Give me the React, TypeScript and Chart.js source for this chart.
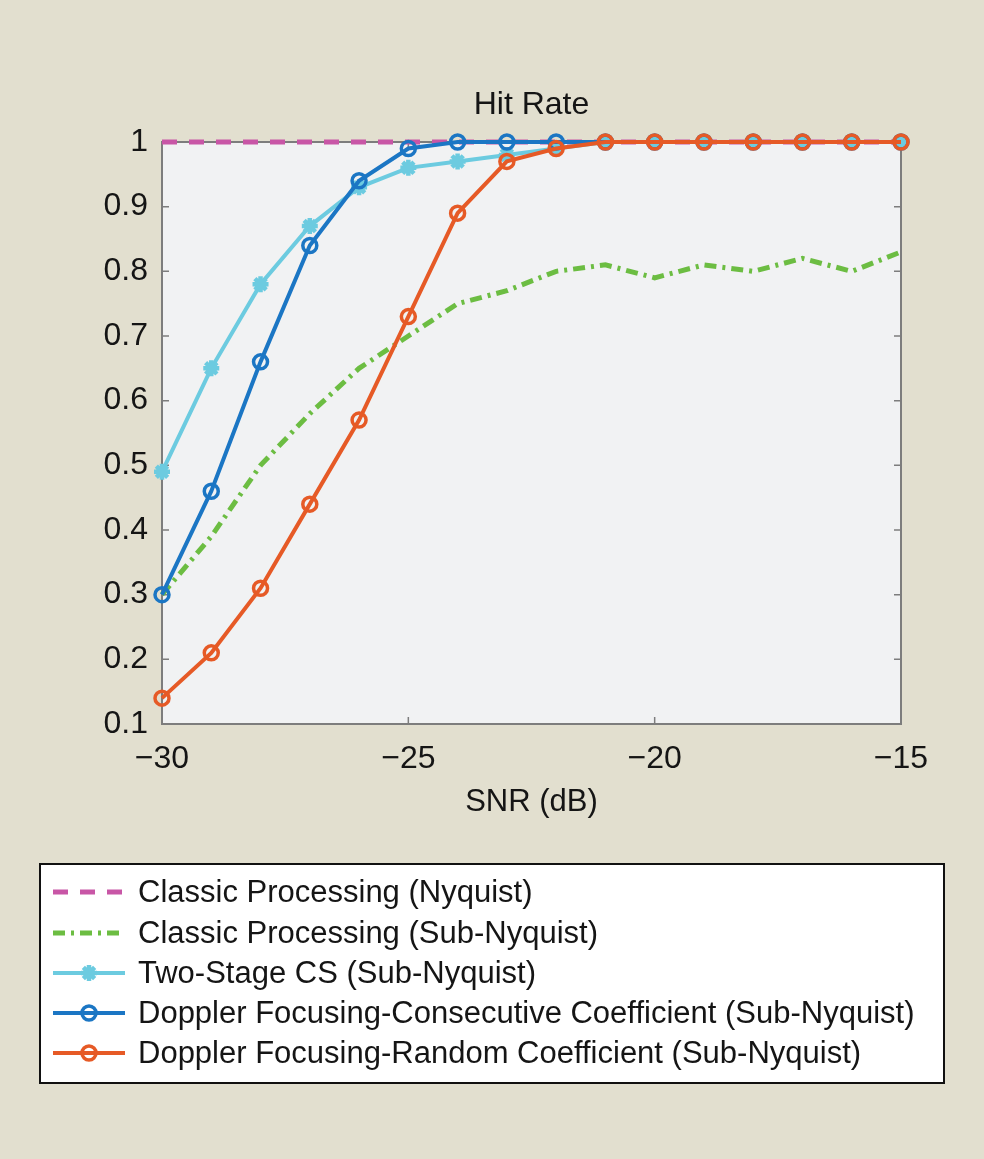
import React, { useEffect, useRef } from "react";
import { Chart, registerables } from "chart.js";
import { drawPoint } from "chart.js/helpers";

Chart.register(...registerables);

const snr = [-30, -29, -28, -27, -26, -25, -24, -23, -22, -21, -20, -19, -18, -17, -16, -15];
const classicNyquist = [1, 1, 1, 1, 1, 1, 1, 1, 1, 1, 1, 1, 1, 1, 1, 1];
const classicSubNyquist = [0.3, 0.39, 0.5, 0.58, 0.65, 0.7, 0.75, 0.77, 0.8, 0.81, 0.79, 0.81, 0.8, 0.82, 0.8, 0.83];
const twoStageCS = [0.49, 0.65, 0.78, 0.87, 0.93, 0.96, 0.97, 0.98, 0.99, 1, 1, 1, 1, 1, 1, 1];
const dopplerConsecutive = [0.3, 0.46, 0.66, 0.84, 0.94, 0.99, 1, 1, 1, 1, 1, 1, 1, 1, 1, 1];
const dopplerRandom = [0.14, 0.21, 0.31, 0.44, 0.57, 0.73, 0.89, 0.97, 0.99, 1, 1, 1, 1, 1, 1, 1];

const seriesLabels = [
  "Classic Processing (Nyquist)",
  "Classic Processing (Sub-Nyquist)",
  "Two-Stage CS (Sub-Nyquist)",
  "Doppler Focusing-Consecutive Coefficient (Sub-Nyquist)",
  "Doppler Focusing-Random Coefficient (Sub-Nyquist)",
];
const xTicks = [-30, -25, -20, -15];
const yTicks = [0.1, 0.2, 0.3, 0.4, 0.5, 0.6, 0.7, 0.8, 0.9, 1];
const titleText = "Hit Rate";
const xTitleText = "SNR (dB)";

const FONT = "'Liberation Sans', Arial, Helvetica, sans-serif";
const PAGE_BG = "#e2dfcf";
const PLOT_BG = "#f1f2f3";
const AXIS_COLOR = "#7d7d7d";
const TEXT_COLOR = "#151515";

const toPts = (ys: number[]) => ys.map((y, i) => ({ x: snr[i], y }));

const framePlugin = {
  id: "matlabFrame",
  beforeDraw(chart: any) {
    const { ctx, chartArea: a } = chart;
    ctx.save();
    ctx.fillStyle = PAGE_BG;
    ctx.fillRect(0, 0, chart.width, chart.height);
    ctx.fillStyle = PLOT_BG;
    ctx.fillRect(a.left, a.top, a.right - a.left, a.bottom - a.top);
    ctx.restore();
  },
  beforeDatasetsDraw(chart: any) {
    const { ctx, chartArea: a, scales } = chart;
    ctx.save();
    ctx.strokeStyle = AXIS_COLOR;
    ctx.lineWidth = 2;
    ctx.strokeRect(a.left, a.top, a.right - a.left, a.bottom - a.top);
    ctx.lineWidth = 1.5;
    const tl = 7;
    ctx.beginPath();
    for (const v of yTicks) {
      const y = scales.y.getPixelForValue(v);
      ctx.moveTo(a.left, y);
      ctx.lineTo(a.left + tl, y);
      ctx.moveTo(a.right, y);
      ctx.lineTo(a.right - tl, y);
    }
    for (const v of xTicks) {
      const x = scales.x.getPixelForValue(v);
      ctx.moveTo(x, a.bottom);
      ctx.lineTo(x, a.bottom - tl);
      ctx.moveTo(x, a.top);
      ctx.lineTo(x, a.top + tl);
    }
    ctx.stroke();
    ctx.fillStyle = TEXT_COLOR;
    ctx.font = `32px ${FONT}`;
    ctx.textAlign = "center";
    ctx.textBaseline = "middle";
    ctx.fillText(titleText, (a.left + a.right) / 2, 105);
    ctx.restore();
  },
  afterDraw(chart: any) {
    const { ctx } = chart;
    const bx = 40, by = 864, bw = 904, bh = 219;
    ctx.save();
    ctx.fillStyle = "#ffffff";
    ctx.fillRect(bx, by, bw, bh);
    ctx.strokeStyle = "#111111";
    ctx.lineWidth = 2;
    ctx.strokeRect(bx, by, bw, bh);
    const rowY = [892, 933, 973, 1013, 1053];
    chart.data.datasets.forEach((ds: any, i: number) => {
      const y = rowY[i];
      ctx.save();
      ctx.strokeStyle = ds.borderColor;
      ctx.lineWidth = ds.borderWidth;
      ctx.setLineDash(ds.borderDash || []);
      ctx.beginPath();
      ctx.moveTo(53, y);
      ctx.lineTo(125, y);
      ctx.stroke();
      ctx.setLineDash([]);
      if (ds.pointRadius > 0) {
        ctx.strokeStyle = ds.pointBorderColor || ds.borderColor;
        ctx.fillStyle = "rgba(0,0,0,0)";
        ctx.lineWidth = ds.pointBorderWidth;
        drawPoint(ctx, { pointStyle: ds.pointStyle, rotation: 0, radius: ds.pointRadius, borderWidth: ds.pointBorderWidth }, 89, y);
      }
      ctx.restore();
      ctx.fillStyle = TEXT_COLOR;
      ctx.font = `31px ${FONT}`;
      ctx.textAlign = "left";
      ctx.textBaseline = "middle";
      ctx.fillText(ds.label, 138, y + 1);
    });
    ctx.restore();
  },
};

export default function App() {
  const ref = useRef<HTMLCanvasElement | null>(null);

  useEffect(() => {
    if (!ref.current) return;
    Chart.defaults.font.family = FONT;
    const chart = new Chart(ref.current, {
      type: "line",
      data: {
        datasets: [
          {
            label: seriesLabels[0],
            data: toPts(classicNyquist),
            borderColor: "#c856a6",
            borderWidth: 5,
            borderDash: [15, 12],
            pointRadius: 0,
            clip: false,
            order: 4,
          },
          {
            label: seriesLabels[1],
            data: toPts(classicSubNyquist),
            borderColor: "#6cbd42",
            borderWidth: 5,
            borderDash: [12, 6, 3, 6],
            pointRadius: 0,
            clip: false,
            order: 3,
          },
          {
            label: seriesLabels[2],
            data: toPts(twoStageCS),
            borderColor: "#6ccbe0",
            borderWidth: 4,
            pointStyle: "star",
            pointRadius: 8,
            pointBorderWidth: 4.5,
            pointBackgroundColor: "rgba(0,0,0,0)",
            clip: false,
            order: 2,
          },
          {
            label: seriesLabels[3],
            data: toPts(dopplerConsecutive),
            borderColor: "#1b76c4",
            borderWidth: 4,
            pointStyle: "circle",
            pointRadius: 7,
            pointBorderWidth: 3.5,
            pointBackgroundColor: "rgba(0,0,0,0)",
            clip: false,
            order: 1,
          },
          {
            label: seriesLabels[4],
            data: toPts(dopplerRandom),
            borderColor: "#e65a26",
            borderWidth: 4,
            pointStyle: "circle",
            pointRadius: 7,
            pointBorderWidth: 3.5,
            pointBackgroundColor: "rgba(0,0,0,0)",
            clip: false,
            order: 0,
          },
        ],
      },
      options: {
        animation: false,
        responsive: false,
        maintainAspectRatio: false,
        layout: { padding: { left: 0, right: 83, top: 142, bottom: 338 } },
        plugins: {
          legend: { display: false },
          title: { display: false },
          tooltip: { enabled: false },
        },
        scales: {
          x: {
            type: "linear",
            min: -30,
            max: -15,
            afterBuildTicks: (s: any) => {
              s.ticks = xTicks.map((v) => ({ value: v }));
            },
            afterFit: (s: any) => {
              s.height = 97;
            },
            grid: { display: false, drawTicks: false },
            border: { display: false },
            ticks: {
              padding: 16,
              color: TEXT_COLOR,
              font: { size: 32, family: FONT },
              maxRotation: 0,
              callback: (v: any) => String(v).replace("-", "\u2212"),
            },
            title: {
              display: true,
              text: xTitleText,
              color: TEXT_COLOR,
              font: { size: 31, family: FONT },
              padding: { top: 6, bottom: 0 },
            },
          },
          y: {
            type: "linear",
            min: 0.1,
            max: 1,
            afterBuildTicks: (s: any) => {
              s.ticks = yTicks.map((v) => ({ value: v }));
            },
            afterFit: (s: any) => {
              s.width = 162;
            },
            grid: { display: false, drawTicks: false },
            border: { display: false },
            ticks: {
              padding: 14,
              color: TEXT_COLOR,
              font: { size: 32, family: FONT },
              callback: (v: any) => (Math.abs(v - 1) < 1e-9 ? "1" : Number(v).toFixed(1)),
            },
          },
        },
      },
      plugins: [framePlugin],
    });
    return () => chart.destroy();
  }, []);

  return (
    <div style={{ position: "absolute", left: 0, top: 0, width: 984, height: 1159, background: PAGE_BG }}>
      <canvas ref={ref} width={984} height={1159} style={{ display: "block", width: 984, height: 1159 }} />
    </div>
  );
}
